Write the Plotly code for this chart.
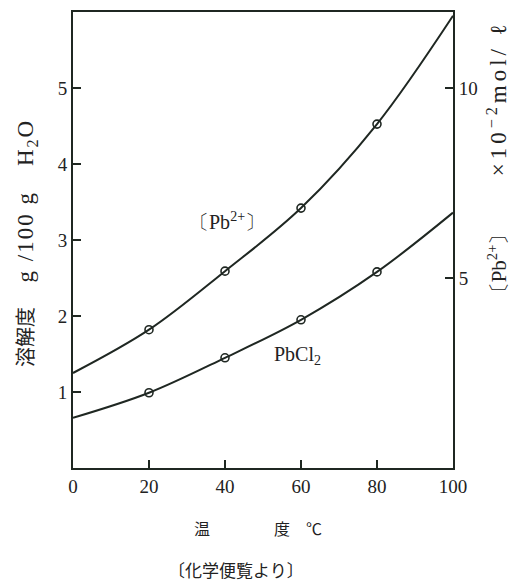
import plotly.graph_objects as go

# Data
temp_curve = [0, 20, 40, 60, 80, 100]
pbcl2_curve = [0.66, 0.99, 1.45, 1.95, 2.58, 3.36]          # g / 100 g H2O (left axis)
pb_ion_curve = [2.5, 3.64, 5.18, 6.84, 9.05, 11.9]           # x10^-2 mol/L (right axis)
temp_marks = [20, 40, 60, 80]
pbcl2_marks = [0.99, 1.45, 1.95, 2.58]
pb_ion_marks = [3.64, 5.18, 6.84, 9.05]

x_ticks = [0, 20, 40, 60, 80, 100]
left_ticks = [1, 2, 3, 4, 5]
right_ticks = [5, 10]

OFF = 8  # page body margin
W, H = 520 - OFF, 588 - OFF
L, R, T, B = 73 - OFF, 453 - OFF, 10 - OFF, 468 - OFF
ink = "#1f2722"
serif = "Liberation Serif, DejaVu Serif, serif"
cjk = "Noto Sans CJK JP, Noto Sans, sans-serif"

def px(x):
    return (x - OFF - L) / (R - L)

def py(y):
    return (B - (y - OFF)) / (B - T)

fig = go.Figure()
fig.add_trace(go.Scatter(x=temp_curve, y=pbcl2_curve, mode="lines",
                         line=dict(color=ink, width=2, shape="spline", smoothing=1.0),
                         showlegend=False, hoverinfo="skip"))
fig.add_trace(go.Scatter(x=temp_marks, y=pbcl2_marks, mode="markers",
                         marker=dict(symbol="circle-open", size=8, color=ink, line=dict(width=1.6)),
                         showlegend=False))
fig.add_trace(go.Scatter(x=temp_curve, y=pb_ion_curve, mode="lines", yaxis="y2",
                         line=dict(color=ink, width=2, shape="spline", smoothing=1.0),
                         showlegend=False, hoverinfo="skip"))
fig.add_trace(go.Scatter(x=temp_marks, y=pb_ion_marks, mode="markers", yaxis="y2",
                         marker=dict(symbol="circle-open", size=8, color=ink, line=dict(width=1.6)),
                         showlegend=False))

axis_common = dict(showgrid=False, zeroline=False, showline=True, linecolor=ink, linewidth=2,
                   ticks="inside", ticklen=8, tickwidth=2, tickcolor=ink,
                   tickfont=dict(family=serif, size=19, color="#222"))

fig.update_layout(
    width=W, height=H,
    margin=dict(l=L, r=W - R, t=T, b=H - B),
    paper_bgcolor="white", plot_bgcolor="white",
    xaxis=dict(range=[0, 100], tickvals=x_ticks, mirror=True, **axis_common),
    yaxis=dict(range=[0, 6], tickvals=left_ticks, **axis_common),
    yaxis2=dict(range=[0, 12], tickvals=right_ticks, overlaying="y", side="right", **axis_common),
)

ann = [
    dict(text="溶解度　 <span style='font-family:Liberation Serif;font-size:23px;letter-spacing:2px'>g /100 g　H<sub>2</sub>O</span>",
         x=px(26), y=py(242), textangle=-90,
         font=dict(family=cjk, size=20, color="#222")),
    dict(text="〔Pb<sup>2+</sup>〕　　 <span style='font-size:23px;letter-spacing:4px'>×10<sup>−2</sup>mol/ ℓ</span>",
         x=px(497), y=py(160), textangle=-90,
         font=dict(family=serif, size=21, color="#222")),
    dict(text="温　　　　度　℃", x=px(258), y=py(528),
         font=dict(family=cjk, size=16, color="#222")),
    dict(text="〔化学便覧より〕", x=px(236), y=py(570),
         font=dict(family=cjk, size=17, color="#222")),
    dict(text="〔Pb<sup>2+</sup>〕", x=px(227), y=py(220),
         font=dict(family=serif, size=20, color="#222")),
    dict(text="PbCl<sub>2</sub>", x=px(297), y=py(355),
         font=dict(family=serif, size=20, color="#222")),
]
for a in ann:
    fig.add_annotation(xref="paper", yref="paper", showarrow=False,
                       xanchor="center", yanchor="middle", **a)

fig.write_html("out.html")
